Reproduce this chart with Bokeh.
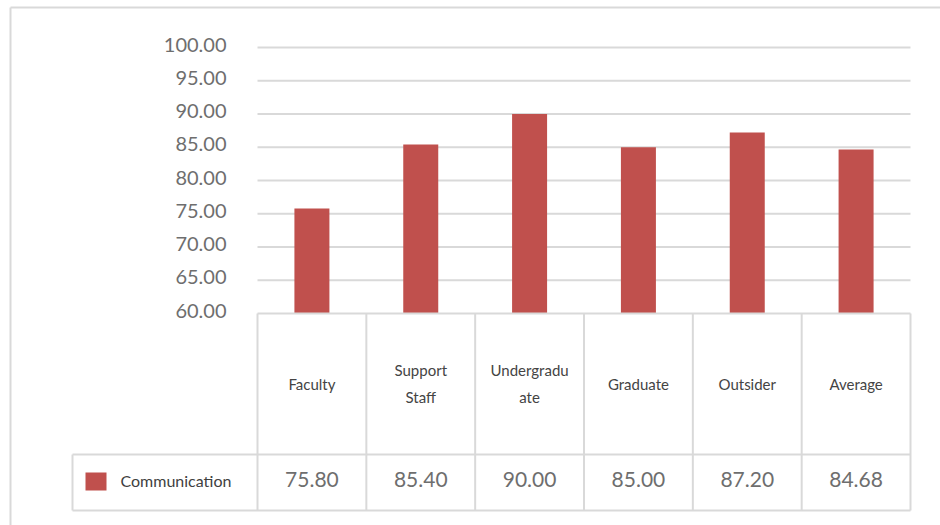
from bokeh.plotting import figure
from bokeh.models import Range1d, ColumnDataSource
from bokeh.core.properties import value
from bokeh.embed import file_html
from bokeh.resources import INLINE

# ---- data ----
categories = ["Faculty", "Support\nStaff", "Undergradu\nate", "Graduate", "Outsider", "Average"]
series_name = "Communication"
values = [75.80, 85.40, 90.00, 85.00, 87.20, 84.68]
y_ticks = [60, 65, 70, 75, 80, 85, 90, 95, 100]

# ---- layout (pixels) ----
W, H = 940, 525
PX_L, PX_R = 257, 910           # plot area left/right
PX_TOP, PX_BOT = 47, 313        # y=100 / y=60
Y_MIN, Y_MAX = 60, 100
n = len(categories)
colw = (PX_R - PX_L) / n
ys = (Y_MAX - Y_MIN) / (PX_BOT - PX_TOP)   # data units per pixel

def X(px):
    return (px - PX_L) / colw

def Y(py):
    return Y_MIN + (PX_BOT - py) * ys

p = figure(width=W, height=H, output_backend="svg", toolbar_location=None,
           x_range=Range1d(X(0), X(W)), y_range=Range1d(Y(H), Y(0)),
           x_axis_location=None, y_axis_location=None, min_border=0)
p.grid.visible = False
p.outline_line_color = None
p.background_fill_color = "white"
p.border_fill_color = "white"

GRID = "#d9d9d9"
BAR = "#c0504d"
FONT = value("Lato")

# outer chart border (left + top)
p.segment(x0=[X(10), X(10)], y0=[Y(7), Y(7)], x1=[X(W + 5), X(10)], y1=[Y(7), Y(H + 5)],
          line_color=GRID, line_width=2)

# gridlines
grid_ticks = [t for t in y_ticks if t > Y_MIN]
p.segment(x0=[0] * len(grid_ticks), y0=grid_ticks, x1=[n] * len(grid_ticks), y1=grid_ticks,
          line_color=GRID, line_width=2)

# y tick labels (slightly raised like the original)
p.text(x=[X(226)] * len(y_ticks), y=y_ticks, text=[f"{t:.2f}" for t in y_ticks],
       y_offset=-3, text_font=FONT, text_font_size="20px", text_color="#6e6e6e",
       text_align="right", text_baseline="middle")

# bars
xc = [i + 0.5 for i in range(n)]
src = ColumnDataSource(dict(x=xc, top=values, cat=categories,
                            lab=[f"{v:.2f}" for v in values]))
p.vbar(x="x", top="top", bottom=Y_MIN, width=35 / colw, source=src,
       fill_color=BAR, line_color=None)

# data table
row1_bot = Y(454)
row2_bot = Y(510)
leg_left = X(72)
hx0 = [0, leg_left, leg_left]
hy = [Y_MIN, row1_bot, row2_bot]
p.segment(x0=hx0, y0=hy, x1=[n] * 3, y1=hy, line_color=GRID, line_width=2)
vx = list(range(n + 1))
p.segment(x0=vx, y0=[Y_MIN] * len(vx), x1=vx, y1=[row2_bot] * len(vx),
          line_color=GRID, line_width=2)
p.segment(x0=[leg_left], y0=[row1_bot], x1=[leg_left], y1=[row2_bot],
          line_color=GRID, line_width=2)

# category labels
p.text(x="x", y=Y(383), text="cat", source=src, text_font=FONT,
       text_font_size="15px", text_color="#444444", text_align="center",
       text_baseline="middle", text_line_height=1.45)

# values row
p.text(x="x", y=Y(479), text="lab", source=src, text_font=FONT,
       text_font_size="21px", text_color="#6e6e6e", text_align="center",
       text_baseline="middle")

# legend key
p.quad(left=[X(85)], right=[X(106)], top=[Y(472)], bottom=[Y(490)],
       fill_color=BAR, line_color=None)
p.text(x=[X(120)], y=[Y(480)], text=[series_name], text_font=FONT,
       text_font_size="16px", text_color="#404040", text_align="left",
       text_baseline="middle")

open("out.html", "w").write(file_html(p, INLINE))
